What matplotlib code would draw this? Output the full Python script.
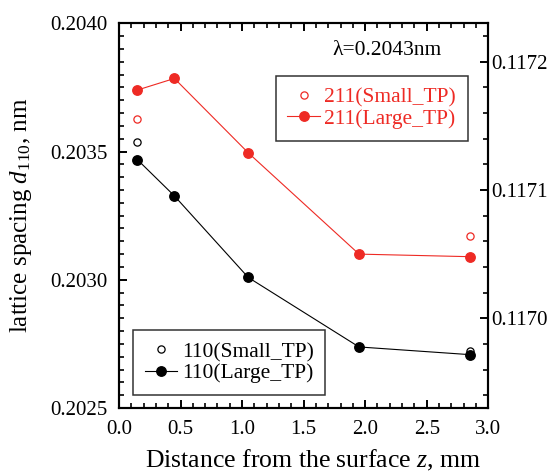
import matplotlib
matplotlib.use("Agg")
import matplotlib.pyplot as plt
from matplotlib.ticker import MultipleLocator, FormatStrFormatter

plt.rcParams['font.family'] = ['Liberation Serif', 'DejaVu Serif']
plt.rcParams['mathtext.fontset'] = 'custom'
plt.rcParams['mathtext.rm'] = 'Liberation Serif'
plt.rcParams['mathtext.it'] = 'Liberation Serif:italic'

# Data
z = [0.15, 0.45, 1.05, 1.95, 2.85]
d110_large = [0.203468, 0.203327, 0.203009, 0.202738, 0.202708]
z110_small = [0.15, 2.85]
d110_small = [0.203537, 0.202721]
d211_large = [0.117178, 0.117187, 0.117129, 0.117050, 0.117048]
z211_small = [0.15, 2.85]
d211_small = [0.117155, 0.117064]

red = '#ee2a24'

fig = plt.figure(figsize=(5.58, 4.76), dpi=100)
ax = fig.add_axes([0.2133, 0.1429, 0.875 - 0.2133, 0.951 - 0.1429])
ax2 = ax.twinx()

l1, = ax.plot(z110_small, d110_small, 'o', ms=5.2, mfc='white', mec='black', mew=0.9, ls='none')
l2, = ax.plot(z, d110_large, '-o', color='black', ms=6.8, lw=0.8)
r1, = ax2.plot(z211_small, d211_small, 'o', ms=5.2, mfc='white', mec=red, mew=0.9, ls='none')
r2, = ax2.plot(z, d211_large, '-o', color=red, ms=6.8, lw=0.8)

ax.set_xlim(0, 3.0)
ax.set_ylim(0.2025, 0.2040)
ax2.set_ylim(0.11693, 0.11723)

ax.xaxis.set_major_locator(MultipleLocator(0.5))
ax.xaxis.set_minor_locator(MultipleLocator(0.1))
ax.xaxis.set_major_formatter(FormatStrFormatter('%.1f'))
ax.yaxis.set_major_locator(MultipleLocator(0.0005))
ax.yaxis.set_minor_locator(MultipleLocator(0.00005))
ax.yaxis.set_major_formatter(FormatStrFormatter('%.4f'))
ax2.yaxis.set_major_locator(MultipleLocator(0.0001))
ax2.yaxis.set_minor_locator(MultipleLocator(0.00002))
ax2.yaxis.set_major_formatter(FormatStrFormatter('%.4f'))

fs = 15
ax.tick_params(axis='x', which='both', direction='in', top=True, labelsize=fs, pad=9)
ax.tick_params(axis='y', which='both', direction='in', right=False, labelsize=fs, pad=8)
ax2.tick_params(axis='y', which='both', direction='in', labelsize=fs, pad=2.5)
for a in (ax, ax2):
    a.tick_params(which='major', length=5.5, width=1.4)
    a.tick_params(which='minor', length=3.3, width=1.2)
    for s in a.spines.values():
        s.set_linewidth(1.5)

ax.set_xlabel(r'Distance from the surface $z$, mm', fontsize=18.5)
ax.xaxis.set_label_coords(0.525, -0.105)
ax.set_ylabel(r'lattice spacing $d_{\mathrm{110}}$, nm', fontsize=18)
ax.yaxis.set_label_coords(-0.229, 0.5)

ax.text(0.727, 0.929, 'λ=0.2043nm', transform=ax.transAxes, fontsize=15.5,
        ha='center', va='center')

leg1 = ax.legend([l1, l2], ['110(Small_TP)', '110(Large_TP)'], loc='lower left',
                 bbox_to_anchor=(0.0387, 0.0338), fontsize=15.5, frameon=True, fancybox=False,
                 edgecolor='black', handlelength=1.5, handletextpad=0.2,
                 borderpad=0.55, labelspacing=0.05, borderaxespad=0)
leg1.get_frame().set_linewidth(1.1)

leg2 = ax2.legend([r1, r2], ['211(Small_TP)', '211(Large_TP)'], loc='upper right',
                  bbox_to_anchor=(0.944, 0.8638), fontsize=15.5, frameon=True, fancybox=False,
                  edgecolor='black', handlelength=1.5, handletextpad=0.2,
                  borderpad=0.55, labelspacing=0.05, borderaxespad=0)
leg2.get_frame().set_linewidth(1.1)
for t in leg2.get_texts():
    t.set_color(red)

fig.savefig('out.png', dpi=100)
